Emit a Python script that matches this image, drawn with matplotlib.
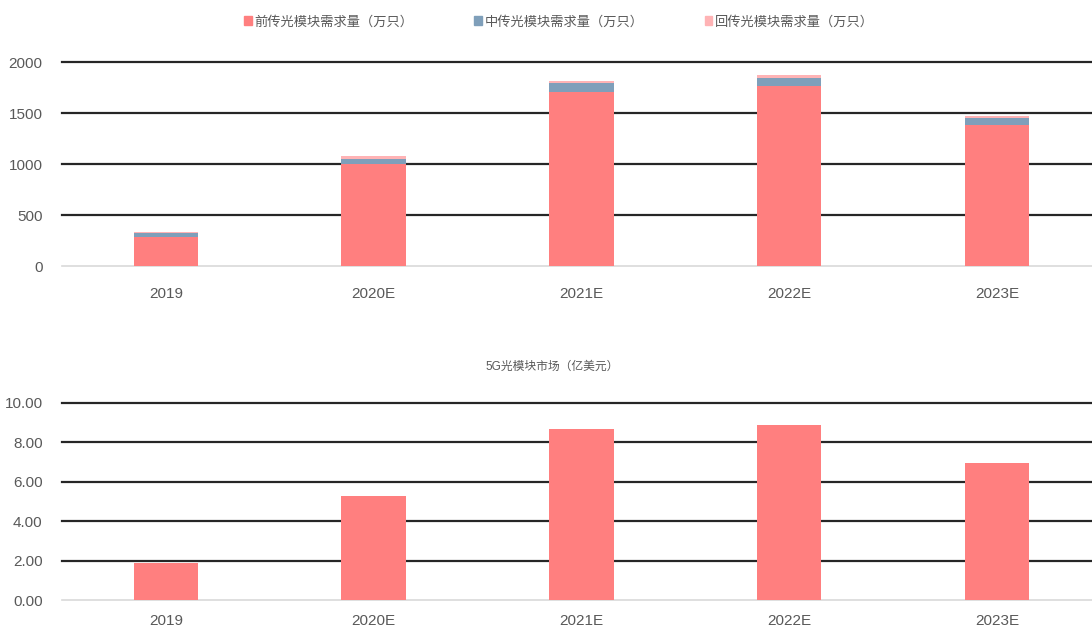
import numpy as np
import matplotlib.pyplot as plt
from matplotlib.patches import Patch

plt.rcParams['font.family'] = ['Liberation Sans', 'Noto Sans CJK SC']

# ========= DATA =========
years = ['2019', '2020E', '2021E', '2022E', '2023E']
fronthaul = [287, 1000, 1710, 1760, 1380]   # 前传 (万只)
midhaul = [33, 52, 82, 82, 75]              # 中传 (万只)
backhaul = [10, 22, 25, 28, 17]             # 回传 (万只)
market = [1.86, 5.28, 8.67, 8.87, 6.97]     # 5G光模块市场 (亿美元)

series_labels = ['前传光模块需求量（万只）', '中传光模块需求量（万只）', '回传光模块需求量（万只）']
market_title = '5G光模块市场（亿美元）'

c_front = '#ff7f7f'
c_mid = '#7f9fba'
c_back = '#ffb3b5'
grid_color = '#262626'
text_color = '#595959'

fig = plt.figure(figsize=(10.92, 6.3), dpi=100)
ax1 = fig.add_axes([62 / 1092, 1 - 266 / 630, 1 - 62 / 1092, 204 / 630])
ax2 = fig.add_axes([62 / 1092, 1 - 600 / 630, 1 - 62 / 1092, 197 / 630])

x = np.arange(len(years))
w = 0.31


def style_axis(ax, ticks, fmt, xpad):
    ax.set_xlim(-0.5, 4.457)
    ax.set_yticks(ticks)
    ax.set_yticklabels([fmt.format(t) for t in ticks])
    for t in ticks[1:]:
        ax.axhline(t, color=grid_color, lw=1.6, zorder=0, clip_on=False)
    ax.axhline(0, color='#d9d9d9', lw=1.2, zorder=0, clip_on=False)
    for s in ax.spines.values():
        s.set_visible(False)
    ax.set_xticks(x)
    ax.set_xticklabels(years)
    ax.tick_params(axis='both', length=0, labelsize=11, colors=text_color)
    ax.tick_params(axis='y', pad=14)
    ax.tick_params(axis='x', pad=xpad)


# ========= TOP: stacked demand =========
f = np.array(fronthaul)
m = np.array(midhaul)
b = np.array(backhaul)
ax1.bar(x, f, w, color=c_front, zorder=2)
ax1.bar(x, m, w, bottom=f, color=c_mid, zorder=2)
ax1.bar(x, b, w, bottom=f + m, color=c_back, zorder=2)
ax1.set_ylim(0, 2000)
style_axis(ax1, [0, 500, 1000, 1500, 2000], '{:d}', 15)

handles = [Patch(color=c_front), Patch(color=c_mid), Patch(color=c_back)]
fig.legend(handles, series_labels, loc='upper center', bbox_to_anchor=(0.512, 0.994),
           ncol=3, frameon=False, fontsize=9.5, handlelength=0.6, handleheight=0.6,
           handletextpad=0.2, columnspacing=4.6, labelcolor=text_color)

# ========= BOTTOM: market size =========
ax2.bar(x, market, w, color=c_front, zorder=2)
ax2.set_ylim(0, 10)
style_axis(ax2, [0, 2, 4, 6, 8, 10], '{:.2f}', 10)
fig.text(0.506, 1 - 367 / 630, market_title, ha='center', va='center',
         fontsize=8.5, color=text_color)

fig.savefig('out.png', dpi=100)
